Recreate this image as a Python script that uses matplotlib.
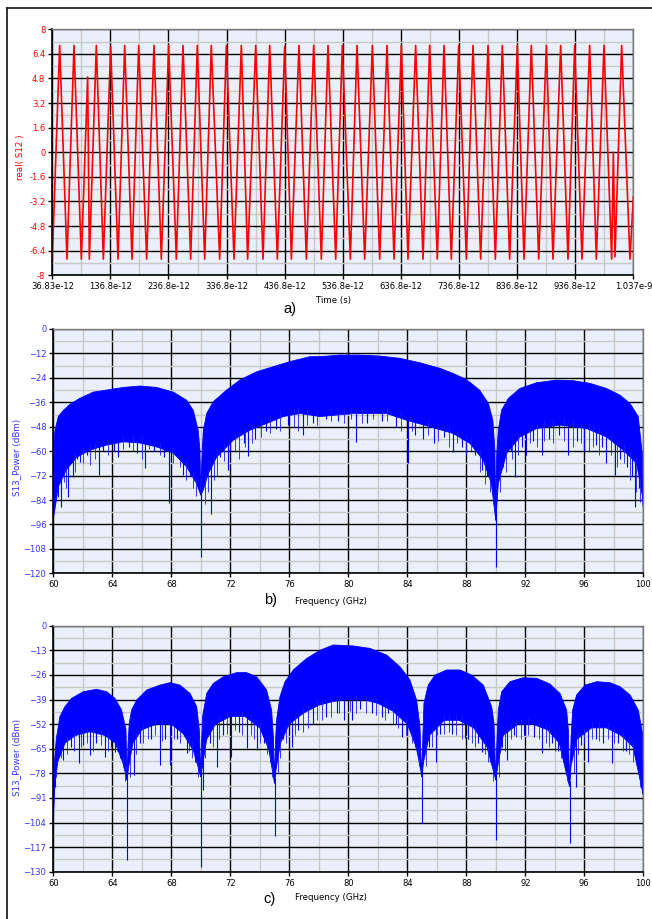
import numpy as np
import matplotlib.pyplot as plt
from matplotlib.lines import Line2D

plt.rcParams['font.family'] = ['DejaVu Sans']

# ---- panel a: real(S12) waveform, extrema (time in ps) ----
wave_t = [36.83, 49.5, 62.1, 74.2, 86.8, 97.7, 100.6, 112.6, 124.7, 137.3,
          149.9, 161.4, 174.0, 185.5, 199.2, 211.9, 224.5, 237.1, 250.3, 261.8,
          275.0, 286.4, 299.1, 310.5, 324.9, 336.4, 349.6, 362.2, 373.0, 386.9,
          399.5, 411.0, 424.2, 436.8, 448.3, 461.4, 474.1, 486.7, 499.9, 511.4,
          524.6, 536.0, 549.8, 561.3, 574.5, 587.7, 600.3, 612.9, 625.0, 637.6,
          649.0, 662.2, 674.9, 686.3, 699.5, 711.0, 723.6, 736.3, 749.5, 760.9,
          774.1, 786.8, 799.4, 811.4, 824.0, 837.2, 848.7, 861.3, 874.0, 887.2,
          898.6, 911.8, 924.4, 935.9, 948.5, 961.7, 973.2, 986.4, 999.6, 1002.5,
          1005.3, 1016.8, 1031.1, 1036.8]
wave_v = [-6.95, 6.95, -6.95, 6.95, -6.95, 4.9, -6.95, 6.95, -6.95, 6.9,
          -6.95, 6.95, -6.95, 6.95, -6.95, 6.95, -6.95, 6.95, -6.95, 6.95,
          -6.95, 6.95, -6.95, 6.95, -6.95, 6.95, -6.95, 6.95, -6.95, 6.95,
          -6.95, 6.95, -6.95, 6.9, -6.95, 6.95, -6.95, 6.95, -6.95, 6.95,
          -6.95, 6.95, -6.95, 6.95, -6.95, 6.95, -6.95, 6.95, -6.95, 6.95,
          -6.95, 6.95, -6.95, 6.95, -6.95, 6.95, -6.95, 6.95, -6.95, 6.95,
          -6.95, 6.95, -6.95, 6.95, -6.95, 6.95, -6.95, 6.95, -6.95, 6.95,
          -6.95, 6.95, -6.95, 6.95, -6.95, 6.95, -6.95, 6.95, -6.95, 0.0,
          -6.8, 6.95, -6.95, -2.9]
time_ticks = [36.83, 136.8, 236.8, 336.8, 436.8, 536.8, 636.8, 736.8, 836.8, 936.8, 1036.83]
time_labels = ['36.83e-12', '136.8e-12', '236.8e-12', '336.8e-12', '436.8e-12',
               '536.8e-12', '636.8e-12', '736.8e-12', '836.8e-12', '936.8e-12', '1.037e-9']
real_ticks = [-8, -6.4, -4.8, -3.2, -1.6, 0, 1.6, 3.2, 4.8, 6.4, 8]
real_labels = ['-8', '-6.4', '-4.8', '-3.2', '-1.6', '0', '1.6', '3.2', '4.8', '6.4', '8']

# ---- panel b: spectrum, upper edge / lower edge of the dense band / spikes ----
b_top_f = [60.0, 60.11, 60.34, 60.68, 61.13, 61.81, 62.71, 63.62, 64.75, 65.88,
           67.0, 68.14, 69.04, 69.49, 69.83, 69.94, 70.0, 70.06, 70.17, 70.4,
           70.85, 71.75, 72.66, 73.79, 74.92, 76.05, 77.4, 78.08, 79.4, 80.8,
           82.15, 83.5, 84.86, 86.2, 87.1, 88.0, 88.9, 89.5, 89.8, 89.94,
           90.0, 90.06, 90.17, 90.4, 90.85, 91.64, 92.77, 94.12, 95.25, 96.38,
           97.5, 98.42, 99.1, 99.66, 99.95, 100.0]
b_top_db = [-59.5, -50, -43, -40, -37, -34, -31, -30, -28.7, -28,
            -28.7, -31, -35, -40, -50, -59.5, -81.6, -66, -50, -41.5,
            -35.7, -30, -25, -21, -18.5, -16, -13.6, -13.6, -12.8, -12.8,
            -13.3, -14.4, -16.6, -19.3, -21.8, -24.8, -30, -36.6, -44.8, -59.5,
            -94, -62, -49.7, -39.8, -34.1, -29.2, -26.4, -25.1, -25.4, -26.7,
            -29.2, -32.5, -36.6, -43.1, -62.8, -87.4]
b_bot_f = [60.0, 60.1, 60.34, 60.9, 61.58, 62.49, 63.62, 64.75, 65.88, 67.0,
           68.14, 69.04, 69.72, 70.0, 70.17, 70.51, 71.07, 72.2, 73.33, 74.46,
           75.6, 76.73, 78.08, 80.34, 82.6, 83.95, 85.54, 87.1, 88.25, 89.15,
           89.7, 90.0, 90.17, 90.73, 91.64, 92.77, 94.35, 96.16, 97.5, 98.64,
           99.55, 99.95, 100.0]
b_bot_db = [-93, -89, -77.5, -69, -63, -59.5, -57, -55.4, -56, -57.9,
            -61, -67.7, -76, -81.6, -79, -71, -63, -54.6, -49.7, -46.4,
            -43, -41.5, -43, -41.5, -41.5, -44.8, -48, -51.3, -56.2, -64.4,
            -75.9, -94, -75.9, -61.1, -53, -48.9, -47.2, -48.9, -53, -59.5,
            -66, -82.5, -87.4]
b_spike_f = [60.34, 60.5, 61.02, 61.1, 61.36, 61.6, 61.81, 62.3, 63.1, 63.4,
             64.1, 64.41, 65.1, 65.7, 66.21, 66.8, 67.5, 67.84, 68.4, 68.81,
             69.3, 70.0, 70.67, 71.3, 71.86, 72.0, 72.9, 73.22, 73.7, 74.4,
             75.1, 75.9, 76.95, 77.6, 78.5, 79.3, 80.5, 81.3, 82.3, 83.2,
             84.02, 84.5, 85.04, 85.8, 86.5, 87.12, 87.7, 88.6, 89.04, 89.4,
             90.02, 90.5, 91.0, 91.3, 91.8, 92.03, 92.5, 93.1, 93.6, 94.3,
             94.92, 95.5, 96.0, 96.8, 97.2, 97.5, 98.1, 98.4, 98.9, 99.2,
             99.42, 99.7, 99.95]
b_spike_db = [-82.5, -87.4, -82.5, -66, -72.6, -64, -65.2, -62, -71.8, -60,
              -60, -62.8, -58, -61, -68.5, -60, -63, -85.4, -62, -71.8,
              -72, -112, -91, -63, -69.3, -60, -56, -62.4, -54, -50,
              -49, -47, -52.1, -46, -44, -45, -55.4, -46, -45, -48,
              -65.7, -52, -53.8, -56, -53, -60.3, -58, -62, -69.3, -72,
              -117, -68, -60, -72.6, -58, -62, -55, -62, -54, -52,
              -62, -55, -60, -57, -58, -66, -71.8, -64, -68, -72,
              -87.4, -78, -87.4]
# shorter streaks hanging under the dense band
b_fine_f = [60.2, 60.7, 60.85, 61.5, 62.0, 62.5, 62.8, 63.7, 64.7, 65.4,
            66.0, 66.5, 67.2, 68.1, 68.6, 69.0, 69.5, 69.7, 70.3, 70.5,
            70.9, 71.1, 71.6, 72.3, 72.6, 73.0, 73.5, 74.1, 74.7, 75.4,
            76.3, 76.6, 77.2, 77.9, 78.8, 79.7, 80.2, 80.9, 81.7, 82.6,
            83.6, 84.3, 85.4, 86.1, 86.8, 87.4, 88.0, 88.3, 88.9, 89.3,
            89.6, 90.3, 90.7, 91.1, 91.5, 92.3, 92.8, 93.3, 93.9, 94.6,
            95.2, 95.8, 96.3, 96.6, 97.0, 97.8, 98.2, 98.7, 99.1, 99.5, 99.8]
b_fine_db = [-80, -75, -78, -70, -66, -67, -64, -62, -59, -60,
             -64, -59, -62, -66, -68, -74, -78, -82, -86, -80,
             -74, -72, -65, -60, -64, -58, -56, -53, -51, -50,
             -48, -50, -47, -47, -45, -46, -44, -46, -44, -45,
             -50, -50, -52, -55, -58, -56, -62, -60, -70, -76,
             -80, -80, -70, -64, -62, -56, -58, -55, -56, -55,
             -58, -56, -60, -58, -62, -62, -68, -66, -74, -80, -85]
b_ticks = [0, -12, -24, -36, -48, -60, -72, -84, -96, -108, -120]

# ---- panel c: spectrum with five side lobes ----
c_top_f = [60.0, 60.05, 60.2, 60.45, 60.79, 61.24, 62.03, 62.94, 63.62, 64.18,
           64.63, 64.93, 65.0, 65.07, 65.15, 65.31, 65.65, 66.33, 67.23, 67.91,
           68.59, 69.27, 69.72, 69.9, 70.0, 70.05, 70.12, 70.4, 70.85, 71.53,
           72.43, 73.1, 73.79, 74.46, 74.8, 74.92, 75.0, 75.06, 75.14, 75.37,
           75.71, 76.27, 77.18, 78.08, 78.98, 80.34, 81.47, 82.6, 83.5, 84.18,
           84.63, 84.86, 84.97, 85.05, 85.13, 85.42, 85.88, 86.67, 87.57, 88.36,
           89.15, 89.72, 89.88, 90.0, 90.08, 90.17, 90.4, 90.96, 91.86, 92.77,
           93.67, 94.35, 94.8, 94.92, 95.0, 95.1, 95.21, 95.48, 96.05, 96.84,
           97.74, 98.42, 99.1, 99.66, 99.95, 100.0]
c_top_db = [-104, -75, -60, -48, -42.8, -38.4, -34.9, -33.6, -34.9, -38.4,
            -44.6, -55.1, -81.6, -62, -51.6, -44.6, -39.3, -34, -31.4, -30.1,
            -31.4, -35.8, -42.8, -55.1, -79.8, -62, -48.1, -35.8, -30.5, -27,
            -24.8, -24.8, -27, -34, -44.6, -58.7, -83.3, -62, -49.8, -37.5,
            -29.6, -23.4, -17.3, -13, -10.2, -10.7, -12, -15.5, -21.7, -28.7,
            -39.3, -53.4, -79.8, -60, -41, -31.4, -26.1, -23.4, -23.4, -26.1,
            -31.4, -42.8, -51.6, -81.6, -60, -44.6, -34.9, -29.6, -27.5, -27.8,
            -30.8, -35.8, -44.6, -55.1, -85.1, -60, -44.6, -36.6, -31.4, -29.6,
            -30.1, -32.2, -36.6, -44.6, -56.9, -89.5]
c_bot_f = [60.0, 60.1, 60.3, 60.8, 61.5, 62.5, 63.5, 64.2, 64.7, 65.0,
           65.1, 65.4, 66.0, 67.0, 68.0, 68.8, 69.5, 70.0, 70.1, 70.4,
           71.0, 72.0, 73.0, 74.0, 74.6, 75.0, 75.1, 75.4, 76.0, 77.0,
           78.0, 79.0, 80.0, 81.0, 82.0, 83.0, 84.0, 84.6, 85.0, 85.1,
           85.5, 86.5, 87.5, 88.5, 89.4, 90.0, 90.1, 90.5, 91.5, 92.5,
           93.5, 94.3, 95.0, 95.1, 95.5, 96.5, 97.5, 98.5, 99.3, 100.0]
c_bot_db = [-104, -85, -72, -62, -58, -56, -58, -62, -72, -81.6,
            -75, -62, -55, -52, -52, -57, -66, -79.8, -75, -60,
            -52, -48, -48, -54, -65, -83.3, -76, -62, -52, -46,
            -42, -40, -39, -39, -41, -45, -52, -64, -79.8, -72,
            -58, -50, -50, -54, -64, -81.6, -76, -58, -52, -52,
            -55, -62, -85.1, -74, -60, -54, -54, -58, -64, -89.5]
c_spike_f = [60.11, 60.4, 60.63, 61.2, 61.76, 62.0, 62.49, 62.9, 63.5, 63.9,
             64.18, 64.5, 65.0, 65.47, 65.9, 66.6, 67.23, 67.6, 67.91, 68.4,
             69.04, 69.6, 70.0, 70.12, 70.6, 71.07, 71.5, 72.02, 72.6, 73.1,
             73.82, 74.3, 75.0, 75.6, 76.16, 76.6, 77.6, 78.5, 79.2, 79.71,
             80.23, 80.8, 81.6, 82.3, 82.71, 83.2, 83.62, 84.0, 84.52, 85.0,
             85.5, 85.94, 86.2, 87.0, 87.91, 88.1, 88.8, 89.08, 89.6, 90.0,
             90.4, 90.73, 91.2, 91.9, 92.6, 93.1, 93.8, 94.2, 94.58, 95.0,
             95.44, 95.8, 96.27, 96.8, 97.3, 97.9, 98.3, 98.8, 99.43, 99.6,
             99.89]
c_spike_db = [-85, -66, -71, -64, -72.7, -63, -68.3, -62, -69.2, -64,
              -66.6, -70, -123.8, -78.9, -62, -60, -73.6, -60, -73.6, -60,
              -67.5, -72, -127.4, -86.8, -62, -74.5, -58, -69.2, -56, -64.8,
              -65.7, -62, -111.2, -60, -63.9, -55, -52, -48, -46, -49.8,
              -49.8, -44, -46, -48, -46.3, -52, -58.7, -58, -63.9, -104.1,
              -64, -71.9, -57, -57, -59.5, -60, -62, -66.6, -72, -113.3,
              -64, -71, -58, -58, -59, -67.5, -62, -66, -70.1, -115,
              -85.1, -63, -71.9, -60, -62, -72.7, -62, -66, -65.7, -72,
              -88.6]
c_fine_f = [60.2, 60.5, 60.9, 61.4, 61.9, 62.3, 62.7, 63.2, 63.7, 64.3,
            64.7, 64.85, 65.2, 65.6, 66.1, 66.4, 66.9, 67.4, 68.2, 68.6,
            69.2, 69.4, 69.8, 70.3, 70.8, 71.2, 71.8, 72.3, 72.8, 73.4,
            73.6, 74.0, 74.5, 74.7, 74.85, 75.2, 75.4, 75.8, 76.4, 76.9,
            77.3, 77.9, 78.2, 78.8, 79.4, 80.1, 80.5, 81.2, 81.9, 82.5,
            83.0, 83.4, 83.9, 84.3, 84.7, 84.8, 85.3, 85.7, 86.0, 86.5,
            86.8, 87.3, 87.7, 88.4, 88.6, 89.3, 89.5, 89.8, 90.2, 90.6,
            91.0, 91.4, 91.7, 92.2, 92.9, 93.4, 93.6, 94.0, 94.4, 94.7,
            94.85, 95.3, 95.6, 96.0, 96.5, 97.0, 97.6, 98.0, 98.6, 99.0,
            99.3, 99.7, 99.8]
c_fine_db = [-80, -70, -68, -66, -64, -62, -66, -63, -66, -66,
             -74, -82, -80, -68, -62, -60, -58, -61, -60, -62,
             -66, -70, -80, -70, -64, -60, -57, -55, -58, -58,
             -60, -62, -68, -72, -80, -78, -70, -62, -58, -56,
             -54, -50, -50, -48, -46, -45, -46, -46, -47, -50,
             -52, -54, -58, -62, -70, -74, -74, -64, -58, -57,
             -56, -58, -60, -62, -64, -68, -72, -82, -80, -66,
             -60, -59, -60, -58, -60, -62, -64, -66, -70, -74,
             -82, -78, -68, -62, -60, -61, -60, -62, -66, -68,
             -72, -80, -85]
c_ticks = [0, -13, -26, -39, -52, -65, -78, -91, -104, -117, -130]

freq_ticks = [60, 64, 68, 72, 76, 80, 84, 88, 92, 96, 100]

BG = '#eaf0fb'
RED = '#ff0000'
BLUE = '#0000ff'
W, H = 652, 919


def style_axes(ax, xmaj, ymaj, tick_color):
    ax.set_facecolor(BG)
    ax.set_xticks(xmaj)
    ax.set_yticks(ymaj)
    # light minor grid halfway between the majors
    ax.set_xticks([(a + b) / 2 for a, b in zip(xmaj[:-1], xmaj[1:])], minor=True)
    ax.set_yticks([(a + b) / 2 for a, b in zip(ymaj[:-1], ymaj[1:])], minor=True)
    ax.grid(which='minor', color='#c8c8c8', lw=1.0)
    ax.grid(which='major', color='black', lw=1.0)
    ax.set_axisbelow(True)
    ax.tick_params(which='minor', length=0)
    ax.tick_params(which='major', length=3, width=1, direction='out',
                   labelsize=6, pad=2, colors='black')
    ax.tick_params(axis='y', labelcolor=tick_color)
    for s in ['top', 'right']:
        ax.spines[s].set_color('#7a7a7a')
        ax.spines[s].set_linewidth(1.0)
    for s in ['left', 'bottom']:
        ax.spines[s].set_color('black')
        ax.spines[s].set_linewidth(1.2)


def draw_spectrum(ax, top_f, top_db, bot_f, bot_db, spk_f, spk_db, fine_f, fine_db):
    poly_f = list(top_f) + list(reversed(bot_f))
    poly_db = list(top_db) + list(reversed(bot_db))
    ax.fill(poly_f, poly_db, color=BLUE, lw=0.6)
    # spikes start inside the dense band and hang down to the read value
    base = np.interp(spk_f, bot_f, bot_db) + 3
    ax.vlines(spk_f, spk_db, base, color=BLUE, lw=0.8)
    base = np.interp(fine_f, bot_f, bot_db) + 3
    ax.vlines(fine_f, fine_db, base, color='#1a1aff', lw=0.6)


fig = plt.figure(figsize=(W / 100, H / 100), dpi=100)

# panel a
ax_a = fig.add_axes([52.3 / W, 1 - 275.3 / H, 581 / W, 246 / H])
style_axes(ax_a, time_ticks, real_ticks, RED)
ax_a.plot(wave_t, wave_v, color=RED, lw=1.2)
ax_a.set_xticklabels(time_labels)
ax_a.set_yticklabels(real_labels)
ax_a.set_xlim(36.83, 1036.83)
ax_a.set_ylim(-8, 8)

# panel b
ax_b = fig.add_axes([53.3 / W, 1 - 573.3 / H, 590 / W, 244.3 / H])
style_axes(ax_b, freq_ticks, b_ticks, '#3434ff')
draw_spectrum(ax_b, b_top_f, b_top_db, b_bot_f, b_bot_db,
              b_spike_f, b_spike_db, b_fine_f, b_fine_db)
ax_b.set_xlim(60, 100)
ax_b.set_ylim(-120, 0)

# panel c
ax_c = fig.add_axes([53.3 / W, 1 - 871.7 / H, 590 / W, 246 / H])
style_axes(ax_c, freq_ticks, c_ticks, '#3434ff')
draw_spectrum(ax_c, c_top_f, c_top_db, c_bot_f, c_bot_db,
              c_spike_f, c_spike_db, c_fine_f, c_fine_db)
ax_c.set_xlim(60, 100)
ax_c.set_ylim(-130, 0)


# axis titles and panel letters placed like in the reference
def ftext(x, y, s, **kw):
    fig.text(x / W, 1 - y / H, s, ha='center', va='center', **kw)


ftext(20, 157, 'real( S12 )', rotation=90, fontsize=6.3, color=RED)
ftext(16.7, 457, 'S13_Power (dBm)', rotation=90, fontsize=6.3, color='#3434ff')
ftext(16.7, 757, 'S13_Power (dBm)', rotation=90, fontsize=6.3, color='#3434ff')

ftext(333, 301, 'Time (s)', fontsize=6.2)
ftext(330.7, 601, 'Frequency (GHz)', fontsize=6.2)
ftext(330.7, 898, 'Frequency (GHz)', fontsize=6.2)

ftext(290, 309, 'a)', fontsize=10.5, family='Liberation Sans')
ftext(271, 600, 'b)', fontsize=10.5, family='Liberation Sans')
ftext(270, 899, 'c)', fontsize=10.5, family='Liberation Sans')

# frame of the scanned figure box
fig.add_artist(Line2D([7 / W, 7 / W], [0, 1 - 7.5 / H], color='#222222', lw=1.3))
fig.add_artist(Line2D([7 / W, 1], [1 - 7.5 / H, 1 - 7.5 / H], color='#222222', lw=1.3))

fig.savefig('out.png', dpi=100)
